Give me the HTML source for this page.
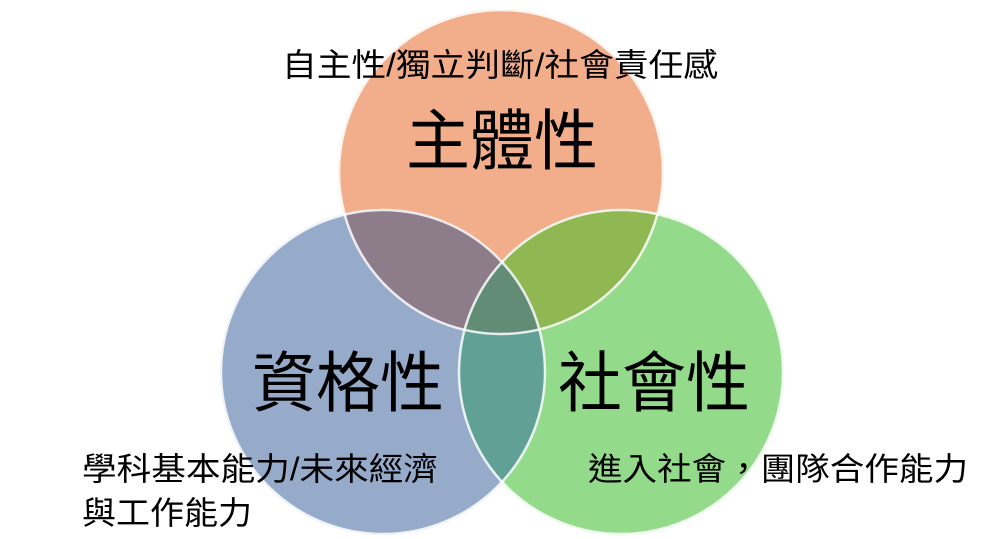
<!DOCTYPE html>
<html><head><meta charset="utf-8"><style>html,body{margin:0;padding:0;background:#fff}</style></head>
<body>
<svg width="989" height="539" viewBox="0 0 989 539" xmlns="http://www.w3.org/2000/svg" style="display:block;font-family:'Liberation Sans','Noto Sans CJK TC',sans-serif">
<defs>
<clipPath id="cT"><circle cx="501" cy="172" r="163"/></clipPath>
<clipPath id="cL"><circle cx="383" cy="372" r="163"/></clipPath>
<clipPath id="cR"><circle cx="621" cy="372" r="163"/></clipPath>
</defs>
<circle cx="501" cy="172" r="163" fill="#F2AE8B"/>
<circle cx="383" cy="372" r="163" fill="#96AACA"/>
<circle cx="621" cy="372" r="163" fill="#93DB8B"/>
<g clip-path="url(#cT)"><circle cx="383" cy="372" r="163" fill="#8D7C8A"/><circle cx="621" cy="372" r="163" fill="#8FB752"/></g>
<g clip-path="url(#cL)"><circle cx="621" cy="372" r="163" fill="#61A094"/></g>
<g clip-path="url(#cL)"><g clip-path="url(#cT)"><circle cx="621" cy="372" r="163" fill="#628C76"/></g></g>
<circle cx="501" cy="172" r="162" fill="none" stroke="#fff" stroke-width="2.5" opacity="0.85"/>
<circle cx="383" cy="372" r="162" fill="none" stroke="#fff" stroke-width="2.5" opacity="0.85"/>
<circle cx="621" cy="372" r="162" fill="none" stroke="#fff" stroke-width="2.5" opacity="0.85"/>
<g fill="#000">
<text x="282" y="76" font-size="32" textLength="436" lengthAdjust="spacingAndGlyphs">自主性/獨立判斷/社會責任感</text>
<text x="406" y="164" font-size="66" textLength="192" lengthAdjust="spacingAndGlyphs">主體性</text>
<text x="252" y="406" font-size="66" textLength="192" lengthAdjust="spacingAndGlyphs">資格性</text>
<text x="558" y="406" font-size="66" textLength="192" lengthAdjust="spacingAndGlyphs">社會性</text>
<text x="82" y="480" font-size="32" textLength="356" lengthAdjust="spacingAndGlyphs">學科基本能力/未來經濟</text>
<text x="82" y="524" font-size="32" textLength="170" lengthAdjust="spacingAndGlyphs">與工作能力</text>
<text x="588" y="480" font-size="32" textLength="380" lengthAdjust="spacingAndGlyphs">進入社會，團隊合作能力</text>
</g>
</svg>
</body></html>
